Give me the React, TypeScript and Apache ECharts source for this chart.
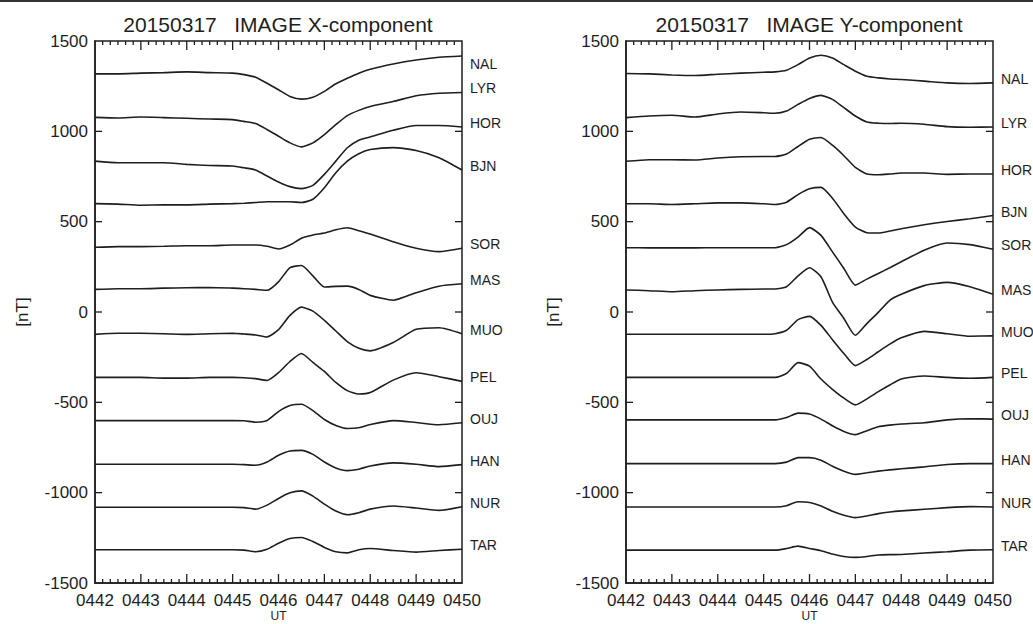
import React, { useEffect, useRef } from 'react';
import * as echarts from 'echarts';

// time in seconds after 04:42:00 UT
const TIME = [0, 30, 60, 90, 120, 150, 180, 195, 210, 225, 240, 255, 270, 285, 300, 315, 330, 345, 360, 390, 420, 450, 480];
const X_TICKS = ['0442', '0443', '0444', '0445', '0446', '0447', '0448', '0449', '0450'];
const STATIONS = ['NAL', 'LYR', 'HOR', 'BJN', 'SOR', 'MAS', 'MUO', 'PEL', 'OUJ', 'HAN', 'NUR', 'TAR'];
const TITLE_X = '20150317   IMAGE X-component';
const TITLE_Y = '20150317   IMAGE Y-component';

// X-component (nT, offset traces)
const NAL_X = [1318, 1318, 1322, 1325, 1329, 1325, 1322, 1314, 1299, 1266, 1230, 1193, 1178, 1189, 1221, 1263, 1294, 1322, 1344, 1373, 1395, 1410, 1417];
const LYR_X = [1077, 1074, 1079, 1076, 1072, 1068, 1065, 1055, 1043, 1010, 973, 936, 914, 936, 982, 1037, 1087, 1116, 1138, 1165, 1197, 1211, 1215];
const HOR_X = [835, 826, 826, 826, 817, 811, 808, 798, 786, 753, 720, 694, 683, 701, 762, 835, 909, 951, 969, 1006, 1032, 1032, 1024];
const BJN_X = [600, 597, 591, 593, 593, 597, 600, 602, 606, 610, 610, 610, 606, 624, 688, 771, 835, 876, 899, 910, 894, 854, 786];
const SOR_X = [358, 362, 362, 364, 367, 367, 371, 371, 371, 364, 349, 371, 408, 426, 437, 455, 466, 450, 432, 389, 353, 334, 353];
const MAS_X = [125, 129, 129, 132, 134, 136, 132, 129, 125, 120, 167, 246, 257, 200, 138, 142, 143, 125, 92, 65, 107, 143, 156];
const MUO_X = [-124, -118, -118, -120, -124, -120, -118, -122, -127, -138, -98, -19, 27, 5, -46, -105, -164, -201, -215, -169, -96, -87, -120];
const PEL_X = [-362, -362, -362, -366, -366, -362, -362, -364, -369, -379, -336, -274, -230, -279, -329, -390, -435, -454, -446, -377, -336, -358, -384];
const OUJ_X = [-601, -601, -601, -601, -601, -601, -601, -602, -610, -601, -551, -518, -511, -546, -595, -628, -645, -641, -623, -601, -612, -624, -613];
const HAN_X = [-843, -843, -843, -843, -843, -843, -843, -845, -848, -830, -793, -769, -766, -788, -830, -863, -878, -870, -852, -835, -843, -856, -845];
const NUR_X = [-1081, -1081, -1081, -1081, -1081, -1081, -1081, -1083, -1091, -1069, -1032, -1001, -990, -1019, -1063, -1102, -1122, -1111, -1091, -1074, -1085, -1098, -1078];
const TAR_X = [-1316, -1316, -1316, -1316, -1316, -1316, -1316, -1318, -1327, -1313, -1280, -1254, -1248, -1270, -1303, -1327, -1333, -1316, -1309, -1320, -1329, -1320, -1313];

// Y-component (nT, offset traces)
const NAL_Y = [1320, 1318, 1312, 1309, 1316, 1322, 1327, 1329, 1338, 1369, 1406, 1421, 1406, 1369, 1333, 1305, 1296, 1290, 1287, 1278, 1268, 1265, 1268];
const LYR_Y = [1076, 1085, 1089, 1079, 1096, 1107, 1103, 1100, 1112, 1149, 1182, 1199, 1177, 1131, 1085, 1052, 1045, 1043, 1045, 1039, 1026, 1023, 1024];
const HOR_Y = [834, 843, 843, 841, 852, 859, 861, 861, 874, 916, 956, 966, 923, 865, 800, 764, 760, 764, 769, 769, 762, 764, 764];
const BJN_Y = [599, 599, 595, 599, 604, 604, 599, 595, 608, 650, 682, 690, 630, 544, 470, 439, 437, 448, 461, 483, 501, 516, 534];
const SOR_Y = [356, 355, 355, 355, 356, 356, 356, 356, 373, 415, 467, 424, 333, 241, 149, 182, 213, 245, 278, 342, 382, 373, 347];
const MAS_Y = [122, 118, 112, 118, 122, 125, 127, 127, 140, 200, 245, 195, 55, -36, -129, -64, -2, 65, 98, 146, 164, 140, 98];
const MUO_Y = [-123, -123, -123, -123, -123, -123, -123, -120, -101, -42, -24, -74, -153, -230, -297, -263, -220, -178, -143, -107, -120, -134, -132];
const PEL_Y = [-362, -362, -362, -362, -362, -362, -362, -362, -340, -280, -300, -371, -428, -477, -514, -481, -441, -404, -371, -354, -362, -367, -362];
const OUJ_Y = [-597, -597, -597, -597, -597, -597, -597, -597, -584, -560, -565, -593, -630, -661, -679, -657, -635, -626, -620, -613, -597, -591, -593];
const HAN_Y = [-839, -839, -839, -839, -839, -839, -839, -839, -831, -806, -806, -820, -854, -881, -899, -890, -881, -874, -868, -857, -844, -839, -839];
const NUR_Y = [-1079, -1079, -1079, -1079, -1079, -1079, -1079, -1079, -1072, -1050, -1054, -1074, -1103, -1125, -1138, -1129, -1116, -1107, -1101, -1092, -1083, -1077, -1079];
const TAR_Y = [-1318, -1318, -1318, -1318, -1318, -1318, -1318, -1318, -1309, -1296, -1309, -1321, -1340, -1353, -1358, -1353, -1345, -1343, -1342, -1334, -1327, -1318, -1316];

const X_SERIES = [NAL_X, LYR_X, HOR_X, BJN_X, SOR_X, MAS_X, MUO_X, PEL_X, OUJ_X, HAN_X, NUR_X, TAR_X];
const Y_SERIES = [NAL_Y, LYR_Y, HOR_Y, BJN_Y, SOR_Y, MAS_Y, MUO_Y, PEL_Y, OUJ_Y, HAN_Y, NUR_Y, TAR_Y];

const X_MIN = 0;
const X_MAX = 480;
const X_MAJOR = 60;
const X_MINOR = 10;
const Y_MIN = -1500;
const Y_MAX = 1500;
const Y_STEP = 500;

const INK = '#1e1e1e';
const FONT = '"Liberation Sans", Arial, sans-serif';

function xAxisFor(gridIndex: number) {
  return {
    type: 'value',
    gridIndex,
    position: 'bottom',
    min: X_MIN,
    max: X_MAX,
    interval: X_MAJOR,
    axisLine: { show: true, onZero: false, lineStyle: { color: INK, width: 1.5 } },
    axisTick: { show: false },
    splitLine: { show: false },
    axisLabel: {
      show: true,
      margin: 9,
      color: INK,
      fontSize: 17,
      lineHeight: 17,
      fontFamily: FONT,
      formatter: (v: number) => X_TICKS[Math.round((v - X_MIN) / X_MAJOR)],
    },
    name: 'UT',
    nameLocation: 'middle',
    nameGap: 27,
    nameMoveOverlap: false,
    nameTextStyle: { color: INK, fontSize: 12, lineHeight: 12, fontFamily: FONT },
  };
}

function yAxisFor(gridIndex: number) {
  return {
    type: 'value',
    gridIndex,
    position: 'left',
    min: Y_MIN,
    max: Y_MAX,
    interval: Y_STEP,
    axisLine: { show: true, onZero: false, lineStyle: { color: INK, width: 1.5 } },
    axisTick: { show: false },
    splitLine: { show: false },
    axisLabel: { show: true, margin: 7, color: INK, fontSize: 17, fontFamily: FONT, formatter: (v: number) => String(v) },
    name: '[nT]',
    nameLocation: 'middle',
    nameGap: 64,
    nameRotate: 90,
    nameTextStyle: { color: INK, fontSize: 17, fontFamily: FONT },
  };
}

// inward tick marks on all four frame sides, placed through the axes' own scales
function tickSeries(axisIndex: number) {
  const xs: number[][] = [];
  for (let t = X_MIN + X_MINOR; t < X_MAX; t += X_MINOR) xs.push([t, 0]);
  const ys: number[][] = [];
  for (let v = Y_MIN + Y_STEP; v < Y_MAX; v += Y_STEP) ys.push([0, v]);
  return [
    {
      type: 'custom',
      xAxisIndex: axisIndex,
      yAxisIndex: axisIndex,
      silent: true,
      z: 4,
      data: xs,
      renderItem: (_p: any, api: any) => {
        const t = api.value(0);
        const pb = api.coord([t, Y_MIN]);
        const pt = api.coord([t, Y_MAX]);
        const len = (t - X_MIN) % X_MAJOR === 0 ? 9 : 4;
        return {
          type: 'group',
          children: [
            { type: 'line', shape: { x1: pb[0], y1: pb[1], x2: pb[0], y2: pb[1] - len }, style: { stroke: INK, lineWidth: 1.3 } },
            { type: 'line', shape: { x1: pt[0], y1: pt[1], x2: pt[0], y2: pt[1] + len }, style: { stroke: INK, lineWidth: 1.3 } },
          ],
        };
      },
    },
    {
      type: 'custom',
      xAxisIndex: axisIndex,
      yAxisIndex: axisIndex,
      silent: true,
      z: 4,
      data: ys,
      renderItem: (_p: any, api: any) => {
        const v = api.value(1);
        const pl = api.coord([X_MIN, v]);
        const pr = api.coord([X_MAX, v]);
        return {
          type: 'group',
          children: [
            { type: 'line', shape: { x1: pl[0], y1: pl[1], x2: pl[0] + 7, y2: pl[1] }, style: { stroke: INK, lineWidth: 1.3 } },
            { type: 'line', shape: { x1: pr[0], y1: pr[1], x2: pr[0] - 7, y2: pr[1] }, style: { stroke: INK, lineWidth: 1.3 } },
          ],
        };
      },
    },
  ];
}

function seriesFor(sets: number[][], axisIndex: number, panel: number) {
  return sets.map((vals, i) => ({
    type: 'line',
    name: STATIONS[i] + (panel === 0 ? '' : ' '),
    xAxisIndex: axisIndex,
    yAxisIndex: axisIndex,
    data: TIME.map((t, k) => [t, vals[k]]),
    showSymbol: false,
    symbol: 'none',
    smooth: 0.2,
    lineStyle: { color: INK, width: 1.6 },
    endLabel: {
      show: true,
      formatter: () => STATIONS[i],
      distance: 8,
      offset: [0, panel === 0 && i === 0 ? 8 : -4],
      color: INK,
      fontSize: 14,
      fontFamily: FONT,
    },
  }));
}

export default function App() {
  const ref = useRef<HTMLDivElement>(null);
  useEffect(() => {
    if (!ref.current) return;
    const chart = echarts.init(ref.current, null, { renderer: 'svg' });
    chart.setOption({
      animation: false,
      backgroundColor: '#ffffff',
      title: [
        { text: TITLE_X, left: 278, top: 14, textAlign: 'center', padding: 0, textStyle: { fontSize: 21, fontWeight: 'normal', color: INK, fontFamily: FONT } },
        { text: TITLE_Y, left: 809, top: 14, textAlign: 'center', padding: 0, textStyle: { fontSize: 21, fontWeight: 'normal', color: INK, fontFamily: FONT } },
      ],
      grid: [
        { left: 95, top: 41, width: 367, height: 542, outerBoundsMode: 'none', show: true, borderColor: INK, borderWidth: 1.5, backgroundColor: 'transparent' },
        { left: 626, top: 41, width: 367, height: 542, outerBoundsMode: 'none', show: true, borderColor: INK, borderWidth: 1.5, backgroundColor: 'transparent' },
      ],
      xAxis: [xAxisFor(0), xAxisFor(1)],
      yAxis: [yAxisFor(0), yAxisFor(1)],
      series: [
        ...seriesFor(X_SERIES, 0, 0),
        ...seriesFor(Y_SERIES, 1, 1),
        ...tickSeries(0),
        ...tickSeries(1),
      ],
      graphic: [
        { type: 'line', shape: { x1: 0, y1: 1, x2: 1033, y2: 1 }, style: { stroke: '#333', lineWidth: 2 } },
      ],
    });
    return () => chart.dispose();
  }, []);
  return (
    <div
      ref={ref}
      style={{ position: 'fixed', left: 0, top: 0, width: 1033, height: 624, background: '#fff' }}
    />
  );
}
